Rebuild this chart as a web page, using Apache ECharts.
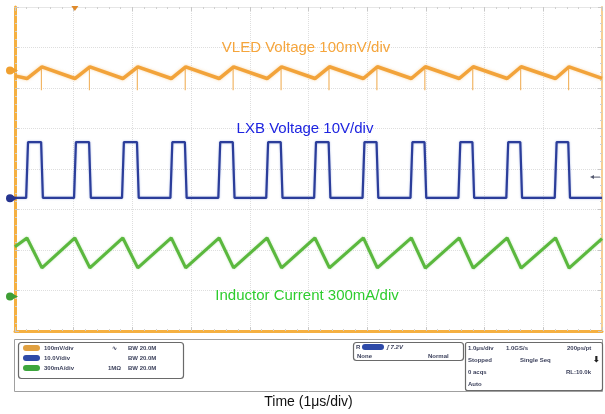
<!DOCTYPE html>
<html><head><meta charset="utf-8">
<script src="https://cdn.jsdelivr.net/npm/echarts@6/dist/echarts.min.js"></script>
<style>html,body{margin:0;padding:0;background:#fff}#c{width:605px;height:414px}</style>
</head><body><div id="c"></div>
<script>
// Time axis in µs (1 µs/div, 10 div), vertical axis in divisions (8 div)
// VLED voltage trace (divisions): [time µs, div]
const vledPoints = [
  [0,2.30],[0.204,2.234],[0.459,2.524],[1.020,2.234],[1.276,2.524],[1.837,2.234],[2.092,2.524],
  [2.662,2.234],[2.908,2.524],[3.478,2.234],[3.724,2.524],[4.294,2.234],[4.541,2.524],
  [5.110,2.234],[5.357,2.524],[5.935,2.234],[6.173,2.524],[6.752,2.234],[6.990,2.524],
  [7.568,2.234],[7.806,2.524],[8.384,2.234],[8.622,2.524],[9.209,2.234],[9.439,2.524],[10,2.24]
];
// VLED switching spikes: time of each spike, top and bottom level
const spikeTimes = [0.450,1.268,2.084,2.900,3.716,4.533,5.349,6.165,6.982,7.798,8.614,9.431];
const spikeTop = 2.50;
const spikeBottom = 1.944;
// LXB switch node voltage trace
const lxbPoints = [
  [0,-0.713],[0.190,-0.713],[0.222,0.664],[0.445,0.664],[0.475,-0.713],
  [1.006,-0.713],[1.038,0.664],[1.262,0.664],[1.292,-0.713],
  [1.823,-0.713],[1.855,0.664],[2.078,0.664],[2.108,-0.713],
  [2.648,-0.713],[2.680,0.664],[2.894,0.664],[2.924,-0.713],
  [3.464,-0.713],[3.496,0.664],[3.710,0.664],[3.740,-0.713],
  [4.280,-0.713],[4.312,0.664],[4.527,0.664],[4.557,-0.713],
  [5.096,-0.713],[5.128,0.664],[5.343,0.664],[5.373,-0.713],
  [5.921,-0.713],[5.953,0.664],[6.159,0.664],[6.189,-0.713],
  [6.738,-0.713],[6.770,0.664],[6.976,0.664],[7.006,-0.713],
  [7.554,-0.713],[7.586,0.664],[7.792,0.664],[7.822,-0.713],
  [8.370,-0.713],[8.402,0.664],[8.608,0.664],[8.638,-0.713],
  [9.195,-0.713],[9.227,0.664],[9.425,0.664],[9.455,-0.713],[10,-0.713]
];
// Inductor current trace
const ilPoints = [
  [0,-1.92],[0.204,-1.703],[0.459,-2.44],[1.020,-1.703],[1.276,-2.44],[1.837,-1.703],[2.092,-2.44],
  [2.662,-1.703],[2.908,-2.44],[3.478,-1.703],[3.724,-2.44],[4.294,-1.703],[4.541,-2.44],
  [5.110,-1.703],[5.357,-2.44],[5.935,-1.703],[6.173,-2.44],[6.752,-1.703],[6.990,-2.45],
  [7.568,-1.703],[7.806,-2.45],[8.384,-1.703],[8.622,-2.45],[9.209,-1.703],[9.439,-2.45],[10,-1.72]
];
// channel ground reference markers (div)
const chGround = [2.43, -0.72, -3.15];
const chColors = ['#F0A030','#26348F','#3E9E35'];
const trigTime = 1.02, trigLevel = -0.20;

const spikeData = [];
spikeTimes.forEach(t => { spikeData.push([t, spikeTop], [t, spikeBottom], [t, '-']); });

const ORANGE = '#F5B041';
const chart = echarts.init(document.getElementById('c'));
const tinyFont = {fontSize:6, fontWeight:'bold', fill:'#3a3f5a', fontFamily:'Liberation Sans'};
function t(x,y,text,extra){return {type:'text',x:x,y:y,style:Object.assign({text:text},tinyFont,extra||{})};}
function pill(x,y,w,c){return {type:'rect',shape:{x:x,y:y,width:w,height:6,r:3},style:{fill:c}};}

chart.setOption({
  animation:false,
  backgroundColor:'#fff',
  grid:{left:15,right:3,top:7,bottom:76},
  xAxis:[{
    type:'value',min:0,max:10,interval:1,position:'bottom',
    axisLine:{show:true,onZero:false,lineStyle:{color:ORANGE,width:3}},
    axisTick:{show:true,inside:true,length:4,lineStyle:{color:'#c8c8c8'}},
    minorTick:{show:true,splitNumber:5,length:2,lineStyle:{color:'#d0d0d0'}},
    splitLine:{show:true,lineStyle:{color:'#dedede',type:'dotted'}},
    axisLabel:{show:false},
    name:'Time (1\u03bcs/div)',nameLocation:'middle',nameGap:64,
    nameTextStyle:{fontSize:14,color:'#111',fontFamily:'Liberation Sans'}
  },{
    type:'value',min:0,max:10,interval:1,position:'top',
    axisLine:{show:true,onZero:false,lineStyle:{color:'#e6e6e6',width:1}},
    axisTick:{show:true,inside:true,length:4,lineStyle:{color:'#c8c8c8'}},
    minorTick:{show:true,splitNumber:5,length:2,lineStyle:{color:'#d0d0d0'}},
    splitLine:{show:false},axisLabel:{show:false}
  }],
  yAxis:[{
    type:'value',min:-4,max:4,interval:1,position:'left',
    axisLine:{show:true,onZero:false,lineStyle:{color:ORANGE,width:3}},
    axisTick:{show:true,inside:true,length:4,lineStyle:{color:'#c8c8c8'}},
    minorTick:{show:true,splitNumber:5,length:2,lineStyle:{color:'#d0d0d0'}},
    splitLine:{show:true,lineStyle:{color:'#dedede',type:'dotted'}},
    axisLabel:{show:false}
  },{
    type:'value',min:-4,max:4,interval:1,position:'right',
    axisLine:{show:true,onZero:false,lineStyle:{color:'#F6CF94',width:2}},
    axisTick:{show:true,inside:true,length:4,lineStyle:{color:'#c8c8c8'}},
    minorTick:{show:true,splitNumber:5,length:2,lineStyle:{color:'#d0d0d0'}},
    splitLine:{show:false},axisLabel:{show:false}
  }],
  series:[
    {type:'line',data:spikeData,showSymbol:false,connectNulls:false,
     lineStyle:{color:'#F2B666',width:1.2},z:3},
    {type:'line',data:vledPoints,showSymbol:false,
     lineStyle:{color:'#F2A33A',width:3.5,shadowColor:'rgba(245,176,80,0.5)',shadowBlur:3},z:4},
    {type:'line',data:lxbPoints,showSymbol:false,
     lineStyle:{color:'#2B3D9A',width:2.2,shadowColor:'rgba(80,110,200,0.5)',shadowBlur:2},z:4},
    {type:'line',data:ilPoints,showSymbol:false,
     lineStyle:{color:'#5BB83E',width:3,shadowColor:'rgba(110,200,90,0.5)',shadowBlur:2},z:4}
  ]
});

const G = [
  {type:'text',x:306,y:48,style:{text:'VLED Voltage 100mV/div',fill:'#F5A53C',fontSize:15,fontFamily:'Liberation Sans',align:'center',verticalAlign:'middle'},z:10},
  {type:'text',x:305,y:129,style:{text:'LXB Voltage 10V/div',fill:'#1E24E0',fontSize:15,fontFamily:'Liberation Sans',align:'center',verticalAlign:'middle'},z:10},
  {type:'text',x:307,y:296,style:{text:'Inductor Current 300mA/div',fill:'#2ECC2E',fontSize:15,fontFamily:'Liberation Sans',align:'center',verticalAlign:'middle'},z:10},
  // status panel
  {type:'rect',shape:{x:14.5,y:339.5,width:588,height:52},style:{fill:'#fff',stroke:'#a0a0a0',lineWidth:1}},
  {type:'rect',shape:{x:18.5,y:342.5,width:165,height:36,r:3},style:{fill:'#fff',stroke:'#6a6a6a',lineWidth:1.2}},
  pill(23,345,17,'#E0A040'),pill(23,355,17,'#2E4AA8'),pill(23,365,17,'#3DA63D'),
  t(44,345,'100mV/div'),t(44,355,'10.0V/div'),t(44,365,'300mA/div'),
  t(112,345,'\u223F'),t(108,365,'1M\u03a9'),
  t(128,345,'BW 20.0M'),t(128,355,'BW 20.0M'),t(128,365,'BW 20.0M'),
  {type:'rect',shape:{x:353.5,y:342.5,width:110,height:18,r:3},style:{fill:'#fff',stroke:'#6a6a6a',lineWidth:1.2}},
  t(356,344,'R'),pill(362,344,22,'#2E4AA8'),t(387,344,'\u0283 7.2V',{fontStyle:'italic'}),
  t(357,353,'None'),t(428,353,'Normal'),
  {type:'rect',shape:{x:465.5,y:342.5,width:137,height:48,r:2},style:{fill:'#fff',stroke:'#6a6a6a',lineWidth:1.2}},
  t(468,345,'1.0\u03bcs/div'),t(506,345,'1.0GS/s'),t(567,345,'200ps/pt'),
  t(468,357,'Stopped'),t(520,357,'Single Seq'),t(593,356,'\u2B07',{fontSize:8,fill:'#222'}),
  t(468,369,'0 acqs'),t(566,369,'RL:10.0k'),
  t(468,381,'Auto')
];

// reference markers placed through the chart's scales
chGround.forEach((v,i) => {
  const p = chart.convertToPixel({gridIndex:0},[0,v]);
  G.push({type:'circle',shape:{cx:p[0]-5,cy:p[1],r:4},style:{fill:chColors[i]},z:20});
  G.push({type:'polygon',shape:{points:[[p[0]-2,p[1]-2.5],[p[0]+3,p[1]],[p[0]-2,p[1]+2.5]]},style:{fill:chColors[i]},z:20});
});
const tp = chart.convertToPixel({gridIndex:0},[trigTime,4]);
G.push({type:'polygon',shape:{points:[[tp[0]-3.5,tp[1]-1],[tp[0]+3.5,tp[1]-1],[tp[0],tp[1]+4]]},style:{fill:'#E08A2A'},z:20});
const tl = chart.convertToPixel({gridIndex:0},[10,trigLevel]);
G.push({type:'line',shape:{x1:tl[0]-10,y1:tl[1],x2:tl[0]-2,y2:tl[1]},style:{stroke:'#555a70',lineWidth:1},z:20});
G.push({type:'polygon',shape:{points:[[tl[0]-12,tl[1]],[tl[0]-8,tl[1]-2],[tl[0]-8,tl[1]+2]]},style:{fill:'#555a70'},z:20});
chart.setOption({graphic:G});
</script></body></html>
